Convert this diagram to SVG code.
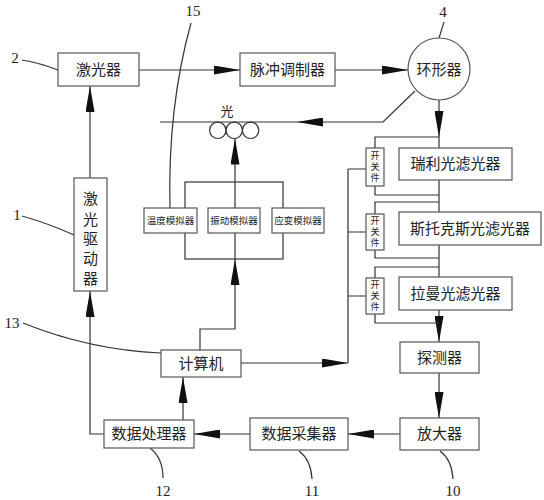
<svg xmlns="http://www.w3.org/2000/svg" width="544" height="500" viewBox="0 0 544 500">
<style>
.b{fill:#fff;stroke:#555;stroke-width:1.2}
.l{fill:none;stroke:#333;stroke-width:1.2}
.t{font-family:"Liberation Serif","Noto Sans CJK SC",serif;font-size:15px;fill:#222;text-anchor:middle;dominant-baseline:central}
.s{font-size:9.5px}
.w{font-size:9px}
.n{font-family:"Liberation Serif",serif;font-size:15px;fill:#222;text-anchor:middle}
</style>
<defs>
<marker id="a" markerUnits="userSpaceOnUse" markerWidth="26" markerHeight="9" refX="26" refY="4.5" orient="auto"><path d="M0,0 L26,4.5 L0,9 Z" fill="#111"/></marker>
</defs>
<rect width="544" height="500" fill="#fff"/>
<g id="connectors">
<path class="l" d="M139,70 H240" marker-end="url(#a)"/>
<path class="l" d="M335,70 H408" marker-end="url(#a)"/>
<path class="l" d="M415,91 L383,122 H297" marker-end="url(#a)"/>
<path class="l" d="M297,122 H160"/>
<path class="l" d="M439,100 V137" marker-end="url(#a)"/>
<path class="l" d="M439,137 V148 M439,180 V212 M439,245 V277"/>
<path class="l" d="M439,310 V342" marker-end="url(#a)"/>
<path class="l" d="M375,148 V137 H439 M375,186 V195 H439 M375,215 V202 H439 M375,250 V258 H439 M375,278 V267 H439 M375,314 V323 H439"/>
<path class="l" d="M241,363 H348" marker-end="url(#a)"/>
<path class="l" d="M348,363 V169 M348,169 H366 M348,232 H366 M348,296 H366"/>
<path class="l" d="M200,350 V329 H235 V259" marker-end="url(#a)"/>
<rect class="l" x="185" y="182" width="98" height="77"/>
<path class="l" d="M235,259 V182"/>
<path class="l" d="M235,182 V138.5" marker-end="url(#a)"/>
<path class="l" d="M439,373 V418" marker-end="url(#a)"/>
<path class="l" d="M400,434 H348" marker-end="url(#a)"/>
<path class="l" d="M250,434 H194" marker-end="url(#a)"/>
<path class="l" d="M183,420 V377" marker-end="url(#a)"/>
<path class="l" d="M104,434 H90 V291" marker-end="url(#a)"/>
<path class="l" d="M90,178 V86" marker-end="url(#a)"/>
</g>
<g id="leaders">
<path class="l" d="M22,60 Q40,63 58,70"/>
<path class="l" d="M191,23 C178,70 168,130 170,208"/>
<path class="l" d="M444,22 L439,38"/>
<path class="l" d="M22,216 Q50,224 74,235"/>
<path class="l" d="M23,323 Q90,350 161,353"/>
<path class="l" d="M150,448 Q163,458 163,478"/>
<path class="l" d="M299,451 Q311,460 312,479"/>
<path class="l" d="M440,451 Q452,460 453,479"/>
<text class="n" x="15" y="63">2</text>
<text class="n" x="193" y="16">15</text>
<text class="n" x="443" y="17">4</text>
<text class="n" x="17" y="220">1</text>
<text class="n" x="12" y="328">13</text>
<text class="n" x="163" y="496">12</text>
<text class="n" x="312" y="496">11</text>
<text class="n" x="453" y="496">10</text>
</g>
<g id="laser"><rect class="b" x="58" y="53" width="81" height="33"/><text class="t" x="98.5" y="70">激光器</text></g>
<g id="pulse"><rect class="b" x="240" y="53" width="95" height="33"/><text class="t" x="287.5" y="70">脉冲调制器</text></g>
<g id="circulator"><circle class="b" cx="439" cy="69" r="31"/><text class="t" x="439" y="70">环形器</text></g>
<g id="fiber">
<text class="t" x="227" y="111" style="font-size:13px">光</text>
<circle class="l" cx="217.8" cy="130.3" r="8.2"/>
<circle class="l" cx="234.2" cy="130.3" r="8.2"/>
<circle class="l" cx="250.6" cy="130.3" r="8.2"/>
</g>
<g id="temp"><rect class="b" x="144" y="208" width="53" height="25"/><text class="t s" x="170.5" y="220.5">温度模拟器</text></g>
<g id="vib"><rect class="b" x="208" y="208" width="52" height="25"/><text class="t s" x="234" y="220.5">振动模拟器</text></g>
<g id="strain"><rect class="b" x="272" y="208" width="52" height="25"/><text class="t s" x="298" y="220.5">应变模拟器</text></g>
<g id="driver"><rect class="b" x="74" y="178" width="33" height="113"/>
<text class="t" x="90.5" y="199">激</text><text class="t" x="90.5" y="219.5">光</text><text class="t" x="90.5" y="239">驱</text><text class="t" x="90.5" y="259">动</text><text class="t" x="90.5" y="279">器</text></g>
<g id="sw1"><rect class="b" x="366" y="148" width="18" height="38"/><text class="t w" x="375" y="156">开</text><text class="t w" x="375" y="167">关</text><text class="t w" x="375" y="178">件</text></g>
<g id="sw2"><rect class="b" x="366" y="214" width="18" height="36"/><text class="t w" x="375" y="221">开</text><text class="t w" x="375" y="232">关</text><text class="t w" x="375" y="243">件</text></g>
<g id="sw3"><rect class="b" x="366" y="278" width="18" height="36"/><text class="t w" x="375" y="285">开</text><text class="t w" x="375" y="296">关</text><text class="t w" x="375" y="307">件</text></g>
<g id="rayleigh"><rect class="b" x="399" y="148" width="113" height="32"/><text class="t" x="455.5" y="164">瑞利光滤光器</text></g>
<g id="stokes"><rect class="b" x="399" y="212" width="142" height="33"/><text class="t" x="470" y="228.5">斯托克斯光滤光器</text></g>
<g id="raman"><rect class="b" x="399" y="277" width="113" height="33"/><text class="t" x="455.5" y="293.5">拉曼光滤光器</text></g>
<g id="detector"><rect class="b" x="400" y="342" width="79" height="31"/><text class="t" x="439.5" y="357.5">探测器</text></g>
<g id="amp"><rect class="b" x="400" y="418" width="79" height="32"/><text class="t" x="439.5" y="434">放大器</text></g>
<g id="daq"><rect class="b" x="250" y="418" width="98" height="32"/><text class="t" x="299" y="434">数据采集器</text></g>
<g id="proc"><rect class="b" x="104" y="420" width="90" height="28"/><text class="t" x="149" y="434">数据处理器</text></g>
<g id="computer"><rect class="b" x="161" y="350" width="80" height="27"/><text class="t" x="201" y="363.5">计算机</text></g>
</svg>
